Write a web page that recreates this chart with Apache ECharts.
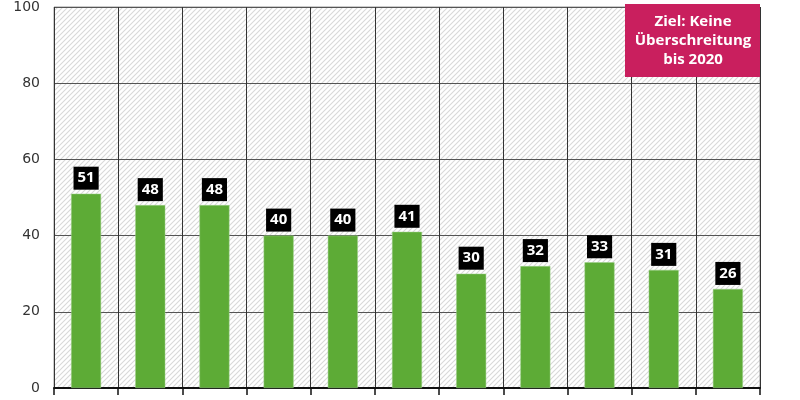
<!DOCTYPE html>
<html><head><meta charset="utf-8">
<script src="https://cdn.jsdelivr.net/npm/echarts@6/dist/echarts.min.js"></script>
<style>html,body{margin:0;padding:0;background:#fff}#c{width:800px;height:400px}</style>
</head><body><div id="c"></div>
<script>
const categories = ['2008','2009','2010','2011','2012','2013','2014','2015','2016','2017','2018'];
const values = [51,48,48,40,40,41,30,32,33,31,26];
const yTicks = [0,20,40,60,80,100];
const noteText = 'Ziel: Keine\nÜberschreitung\nbis 2020';

function hatch(){
  const s = 20, p = 5;
  const c = document.createElement('canvas');
  c.width = s; c.height = s;
  const g = c.getContext('2d');
  g.fillStyle = '#ffffff'; g.fillRect(0,0,s,s);
  g.strokeStyle = '#d9d9d9'; g.lineWidth = 1.1;
  g.beginPath();
  for (let k = 0; k <= 2*s; k += p) { g.moveTo(-2, k+2); g.lineTo(k+2, -2); }
  g.stroke();
  return c;
}

const chart = echarts.init(document.getElementById('c'));
chart.setOption({
  animation:false,
  grid:{left:54,right:40,top:4,bottom:12,show:true,borderColor:'#999',borderWidth:1,
        backgroundColor:{image:hatch(),repeat:'repeat'}},
  xAxis:{type:'category',data:categories,boundaryGap:true,
    axisLine:{lineStyle:{color:'#111',width:2}},
    axisTick:{show:true,length:7,lineStyle:{color:'#111',width:1.5}},
    axisLabel:{show:false},
    splitLine:{show:true,lineStyle:{color:'#333',width:1}}},
  yAxis:{type:'value',min:yTicks[0],max:yTicks[yTicks.length-1],interval:20,
    axisLine:{show:false},axisTick:{show:false},
    axisLabel:{color:'#333',fontSize:14,fontFamily:'DejaVu Sans',margin:14},
    splitLine:{lineStyle:{color:'#555',width:1}}},
  series:[{type:'bar',data:values,barWidth:30,
    itemStyle:{color:'#5dab36',borderColor:'#9fd08a',borderWidth:0.5},
    label:{show:true,position:'top',distance:4,color:'#fff',backgroundColor:'#000',
      fontWeight:'bold',fontSize:15,fontFamily:'Open Sans',padding:[3,4,3,4],lineHeight:17}}],
  graphic:[{type:'rect',left:625,top:4,shape:{width:135,height:73},style:{fill:'#c91f5e'},z:100},
    {type:'text',x:693,y:41,style:{text:noteText,fill:'#fff',font:'bold 15px "Open Sans"',
      align:'center',verticalAlign:'middle',lineHeight:19},z:101}]
});
</script></body></html>
